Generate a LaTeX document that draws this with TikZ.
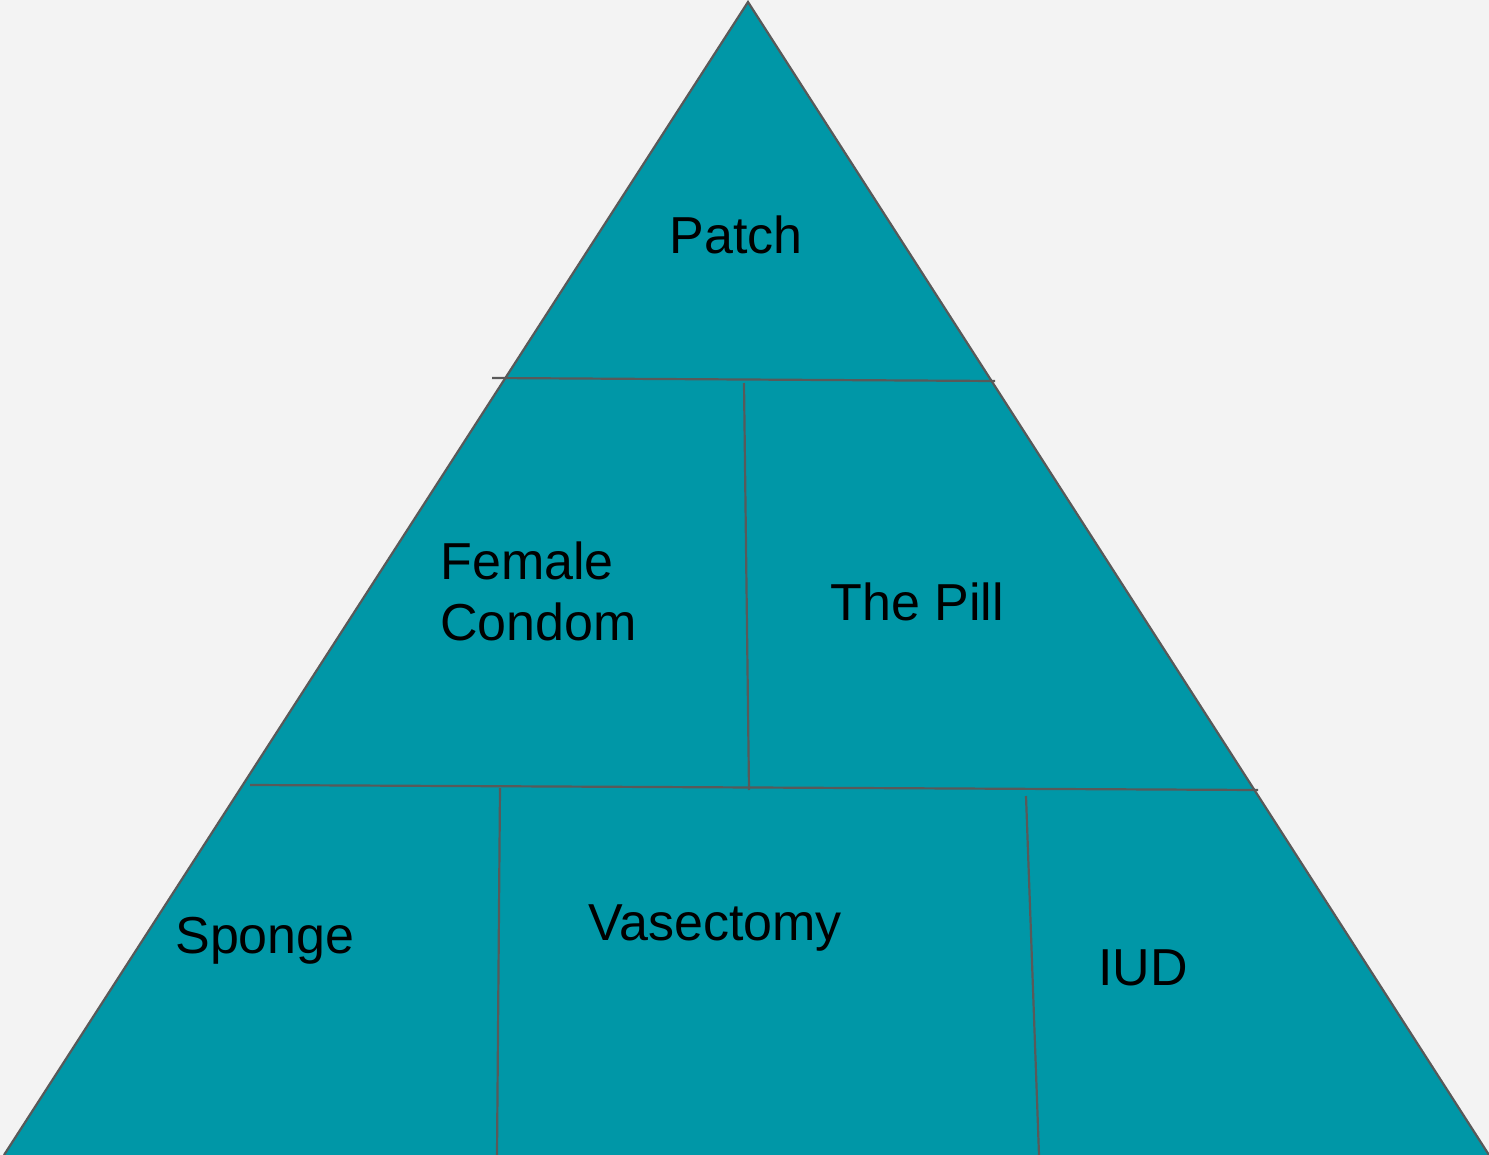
\documentclass[tikz,border=0pt]{standalone}
\usepackage{fontspec}
\setmainfont{Liberation Sans}
\definecolor{bg}{HTML}{F3F3F3}
\definecolor{teal}{HTML}{0097A7}
\definecolor{edge}{HTML}{595959}
\begin{document}
\begin{tikzpicture}[x=0.5pt,y=-0.5pt,
  lbl/.style={anchor=base west,inner sep=0pt,font=\fontsize{26}{31}\selectfont,text=black},
  divider/.style={draw=edge,line width=1.1pt}]
\fill[bg] (0,0) rectangle (1489,1155);
\useasboundingbox (0,0) rectangle (1489,1155);
\coordinate (apex) at (748,2);
\coordinate (bl) at (4,1155);
\coordinate (br) at (1489,1155);
\filldraw[fill=teal,draw=edge,line width=1.1pt] (bl) -- (apex) -- (br);
\fill[teal] (bl) -- (br) -- (1489,1156) -- (4,1156) -- cycle;
% dividers
\draw[divider] (492,378) -- (995,381);
\draw[divider] (744,383) -- (749,790);
\draw[divider] (250,785) -- (1258,790);
\draw[divider] (500,788) -- (497,1155);
\draw[divider] (1026,796) -- (1039,1155);
% labels
\node[lbl] (patch) at (669,254) {Patch};
\node[lbl] (female) at (440,579) {Female};
\node[lbl] (condom) at (440,640) {Condom};
\node[lbl] (pill) at (830,620) {The Pill};
\node[lbl] (sponge) at (175,953) {Sponge};
\node[lbl] (vasectomy) at (588,940) {Vasectomy};
\node[lbl] (iud) at (1098,985) {IUD};
\end{tikzpicture}
\end{document}
